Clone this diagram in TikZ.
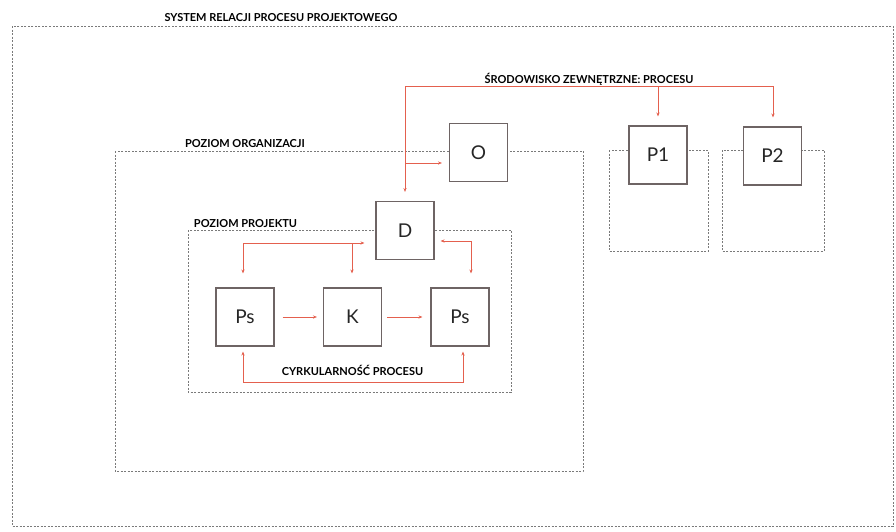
\documentclass[tikz,border=0pt]{standalone}
\usepackage{fontspec}
\setmainfont{Lato}
\usetikzlibrary{arrows.meta}
\definecolor{redl}{HTML}{E4604E}
\definecolor{boxc}{HTML}{6E6464}
\definecolor{dashc}{HTML}{7A7A7A}
\begin{document}
\begin{tikzpicture}[x=1pt,y=-1pt,
  box/.style={draw=boxc,line width=1.1pt,fill=white,minimum width=58pt,minimum height=58pt,inner sep=0pt,font=\fontsize{19}{19}\selectfont,text=black!85},
  zone/.style={draw=dashc,line width=0.8pt,dash pattern=on 2pt off 1.5pt},
  link/.style={draw=redl,line width=0.8pt},
  ar/.style={link,-{Stealth[length=4pt,width=3.2pt]}},
  dar/.style={link,{Stealth[length=4pt,width=3.2pt]}-{Stealth[length=4pt,width=3.2pt]}},
  head/.style={font=\bfseries\fontsize{11}{11}\selectfont,anchor=base,inner sep=0pt,text=black}]
\useasboundingbox (0,0) rectangle (896,531);
\draw[zone] (12,26) rectangle (893,526);
\draw[zone] (115,151) rectangle (583,471);
\draw[zone] (188,230) rectangle (511,392);
\draw[zone] (609,150) rectangle (708,251);
\draw[zone] (722,150) rectangle (824,251);

\node[box] (O) at (478.5,152.5) {O};
\node[box] (P1) at (658,155) {P1};
\node[box] (P2) at (772.5,156) {P2};
\node[box] (D) at (405,230.5) {D};
\node[box] (Ps1) at (245,317) {Ps};
\node[box] (K) at (352.5,317) {K};
\node[box] (Ps2) at (460,317) {Ps};

\node[head] (t1) at (281,21) {SYSTEM RELACJI PROCESU PROJEKTOWEGO};
\node[head] (t2) at (589,83) {ŚRODOWISKO ZEWNĘTRZNE: PROCESU};
\node[head] (t3) at (245,147) {POZIOM ORGANIZACJI};
\node[head] (t4) at (245.5,227) {POZIOM PROJEKTU};
\node[head] (t5) at (352.5,375) {CYRKULARNOŚĆ PROCESU};

\coordinate (busL) at (405,86);
\coordinate (busR) at (773,86);
\draw[link] (busL) -- (busR);
\draw[ar,shorten >=9pt] (busL) -- (D.north);
\draw[ar,shorten >=9pt] (P1.north |- busL) -- (P1.north);
\draw[ar,shorten >=9pt] (busR) -- (busR |- P2.north);
\coordinate (oj) at (405,163);
\draw[ar,shorten >=7pt] (oj) -- (oj -| O.west);

\coordinate (pl) at (243,243);
\coordinate (kj) at (352,243);
\draw[ar,shorten >=11pt] (pl) -- (pl -| D.west);
\draw[ar,shorten >=14pt] (pl) -- (pl |- Ps1.north);
\draw[ar,shorten >=14pt] (kj) -- (kj |- K.north);

\coordinate (pr) at (471,241);
\draw[dar,shorten <=6pt,shorten >=14pt] (D.east |- pr) -- (pr) -- (pr |- Ps2.north);

\draw[ar,shorten <=8pt,shorten >=6pt] (Ps1) -- (K);
\draw[ar,shorten <=5pt,shorten >=8pt] (K) -- (Ps2);

\coordinate (bl) at (243,382);
\coordinate (br) at (463,382);
\draw[dar,shorten <=5pt,shorten >=5pt] (bl |- Ps1.south) -- (bl) -- (br) -- (br |- Ps2.south);
\end{tikzpicture}
\end{document}
